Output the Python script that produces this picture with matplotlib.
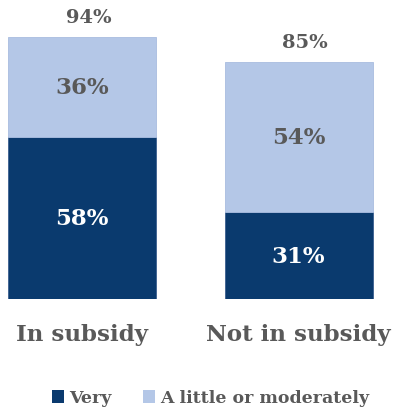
import matplotlib
matplotlib.use("Agg")
import matplotlib.pyplot as plt
from matplotlib.patches import Patch

# Data
categories = ["In subsidy", "Not in subsidy"]
very = [58, 31]
little = [36, 54]
totals = [94, 85]
series_names = ["Very", "A little or moderately"]

DARK = "#0A3A6E"
LIGHT = "#B4C7E7"
GRAY = "#595959"
FONT = "DejaVu Serif"

fig = plt.figure(figsize=(4.01, 4.10), dpi=100)
ax = fig.add_axes([0, 110 / 410, 1, 300 / 410])

x = list(range(len(categories)))
width = 0.684
ax.bar(x, very, width, color=DARK, edgecolor="#3A5F8F", linewidth=0.6)
ax.bar(x, little, width, bottom=very, color=LIGHT, edgecolor="#A8BCDF", linewidth=0.6)

for i in x:
    ax.text(i, very[i] / 2, f"{very[i]}%", ha="center", va="center",
            color="white", fontsize=16.5, fontweight="bold", family=FONT)
    ax.text(i, very[i] + little[i] / 2, f"{little[i]}%", ha="center", va="center",
            color=GRAY, fontsize=16.5, fontweight="bold", family=FONT)
    ax.text(i + 0.03, totals[i] + 7, f"{totals[i]}%", ha="center", va="center",
            color=GRAY, fontsize=14, fontweight="bold", family=FONT)
    ax.text(i, -12.5, categories[i], ha="center", va="center",
            color=GRAY, fontsize=16.5, fontweight="bold", family=FONT, clip_on=False)

ax.set_xlim(-0.379, 1.473)
ax.set_ylim(0, 107.5)
ax.axis("off")

handles = [Patch(facecolor=DARK), Patch(facecolor=LIGHT)]
fig.legend(handles, series_names, loc="center", bbox_to_anchor=(0.525, 11 / 410),
           ncol=2, frameon=False, handlelength=0.7, handleheight=0.7,
           handletextpad=0.3, columnspacing=1.8,
           prop={"family": FONT, "weight": "bold", "size": 12.5}, labelcolor=GRAY)

fig.savefig("out.png", dpi=100)
